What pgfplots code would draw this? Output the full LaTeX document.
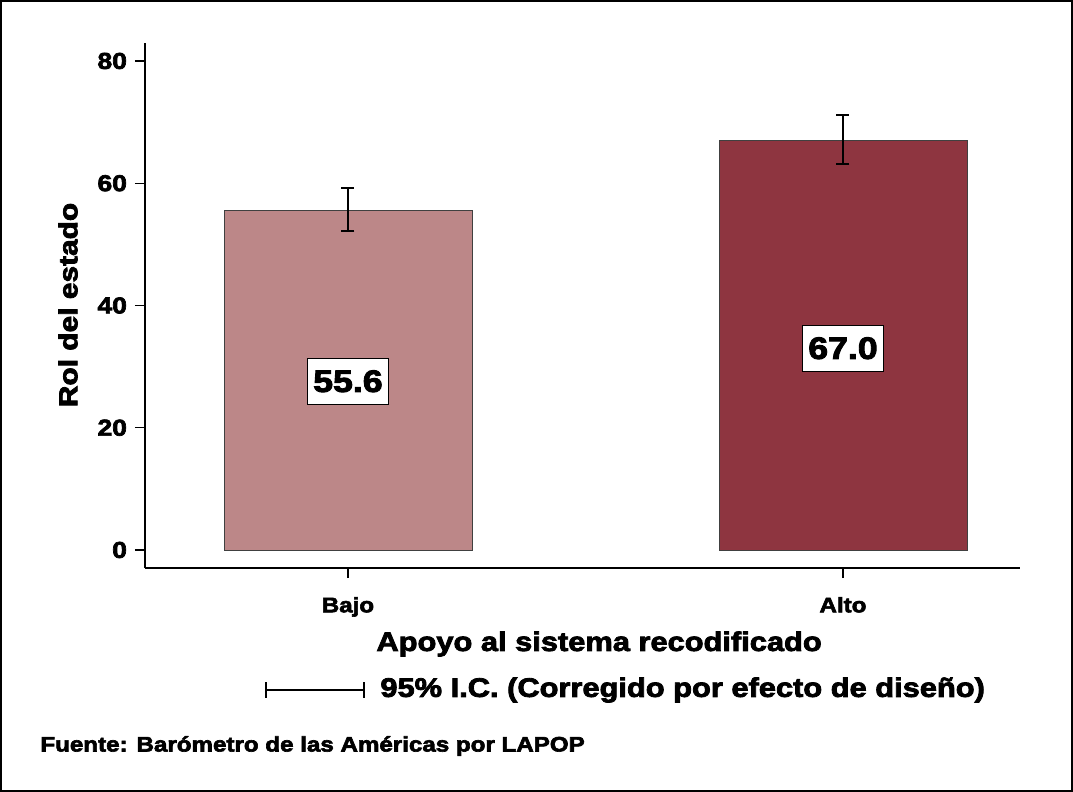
\documentclass[border=0pt]{standalone}
\usepackage{pgfplots}
\pgfplotsset{compat=1.18}
\usepackage{fontspec}
\setmainfont{Liberation Sans}
\newfontfamily\heavy[FakeBold=3,FakeStretch=1.15]{Liberation Sans Bold}
\definecolor{bajo}{HTML}{BC8788}
\definecolor{alto}{HTML}{8E3540}
\begin{document}
\begin{tikzpicture}
\begin{axis}[
  at={(72.5pt,-284pt)}, anchor=south west,
  scale only axis, width=437.5pt, height=262.5pt,
  axis lines=left, axis line style={-, line width=0.6pt},
  xmin=0.59, xmax=2.3576, ymin=-2.95, ymax=82.94,
  xtick={1,2}, xticklabels={Bajo,Alto},
  ytick={0,20,40,60,80},
  tick align=outside, major tick length=5pt,
  tick style={black, line width=0.6pt},
  /pgf/number format/assume math mode=true,
  yticklabel style={font=\heavy\fontsize{11.5}{12}\selectfont, xshift=-0.5pt},
  xticklabel style={font=\heavy\fontsize{10.5}{11}\selectfont, yshift=-6pt},
  ylabel={Rol del estado},
  ylabel style={font=\heavy\fontsize{13}{14}\selectfont,
    at={(axis description cs:-0.088,0.501)}, anchor=center},
  xlabel={Apoyo al sistema recodificado},
  xlabel style={font=\heavy\fontsize{13.4}{14}\selectfont,
    at={(axis description cs:0.519,-0.1448)}, anchor=center},
  clip=false,
]
\addplot[ybar, bar width=0.501, bar shift=0pt, fill=bajo, draw=black!75, line width=0.4pt,
  error bars/.cd, y dir=both, y explicit,
  error bar style={black, line width=1pt},
  error mark options={rotate=90, mark size=3.25pt, line width=1pt, black}]
  coordinates {(1,55.6) += (0,3.6) -= (0,3.4)};
\addplot[ybar, bar width=0.501, bar shift=0pt, fill=alto, draw=black!75, line width=0.4pt,
  error bars/.cd, y dir=both, y explicit,
  error bar style={black, line width=1pt},
  error mark options={rotate=90, mark size=3.25pt, line width=1pt, black}]
  coordinates {(2,67.0) += (0,4.1) -= (0,3.8)};
\node[fill=white, draw=black, line width=0.4pt, inner xsep=3pt, inner ysep=6pt,
  font=\heavy\fontsize{15.5}{16}\selectfont] at (axis cs:1,27.6) {55.6};
\node[fill=white, draw=black, line width=0.4pt, inner xsep=3pt, inner ysep=6pt,
  font=\heavy\fontsize{15.5}{16}\selectfont] at (axis cs:2,33.0) {67.0};
\end{axis}
\begin{scope}[x=0.5pt,y=-0.5pt]
% outer frame
\draw[line width=1pt] (1,1) rectangle (1072,791);
% legend for the confidence interval
\draw[line width=1pt, |-|] (265,690) -- (365,690);
\node[anchor=west, inner sep=0pt, font=\heavy\fontsize{13.4}{14}\selectfont] at (380,690) {95\% I.C. (Corregido por efecto de diseño)};
\node[anchor=west, inner sep=0pt, font=\heavy\fontsize{10.5}{11}\selectfont] at (40,746) {Fuente: Barómetro de las Américas por LAPOP};
\end{scope}
\end{tikzpicture}
\end{document}
